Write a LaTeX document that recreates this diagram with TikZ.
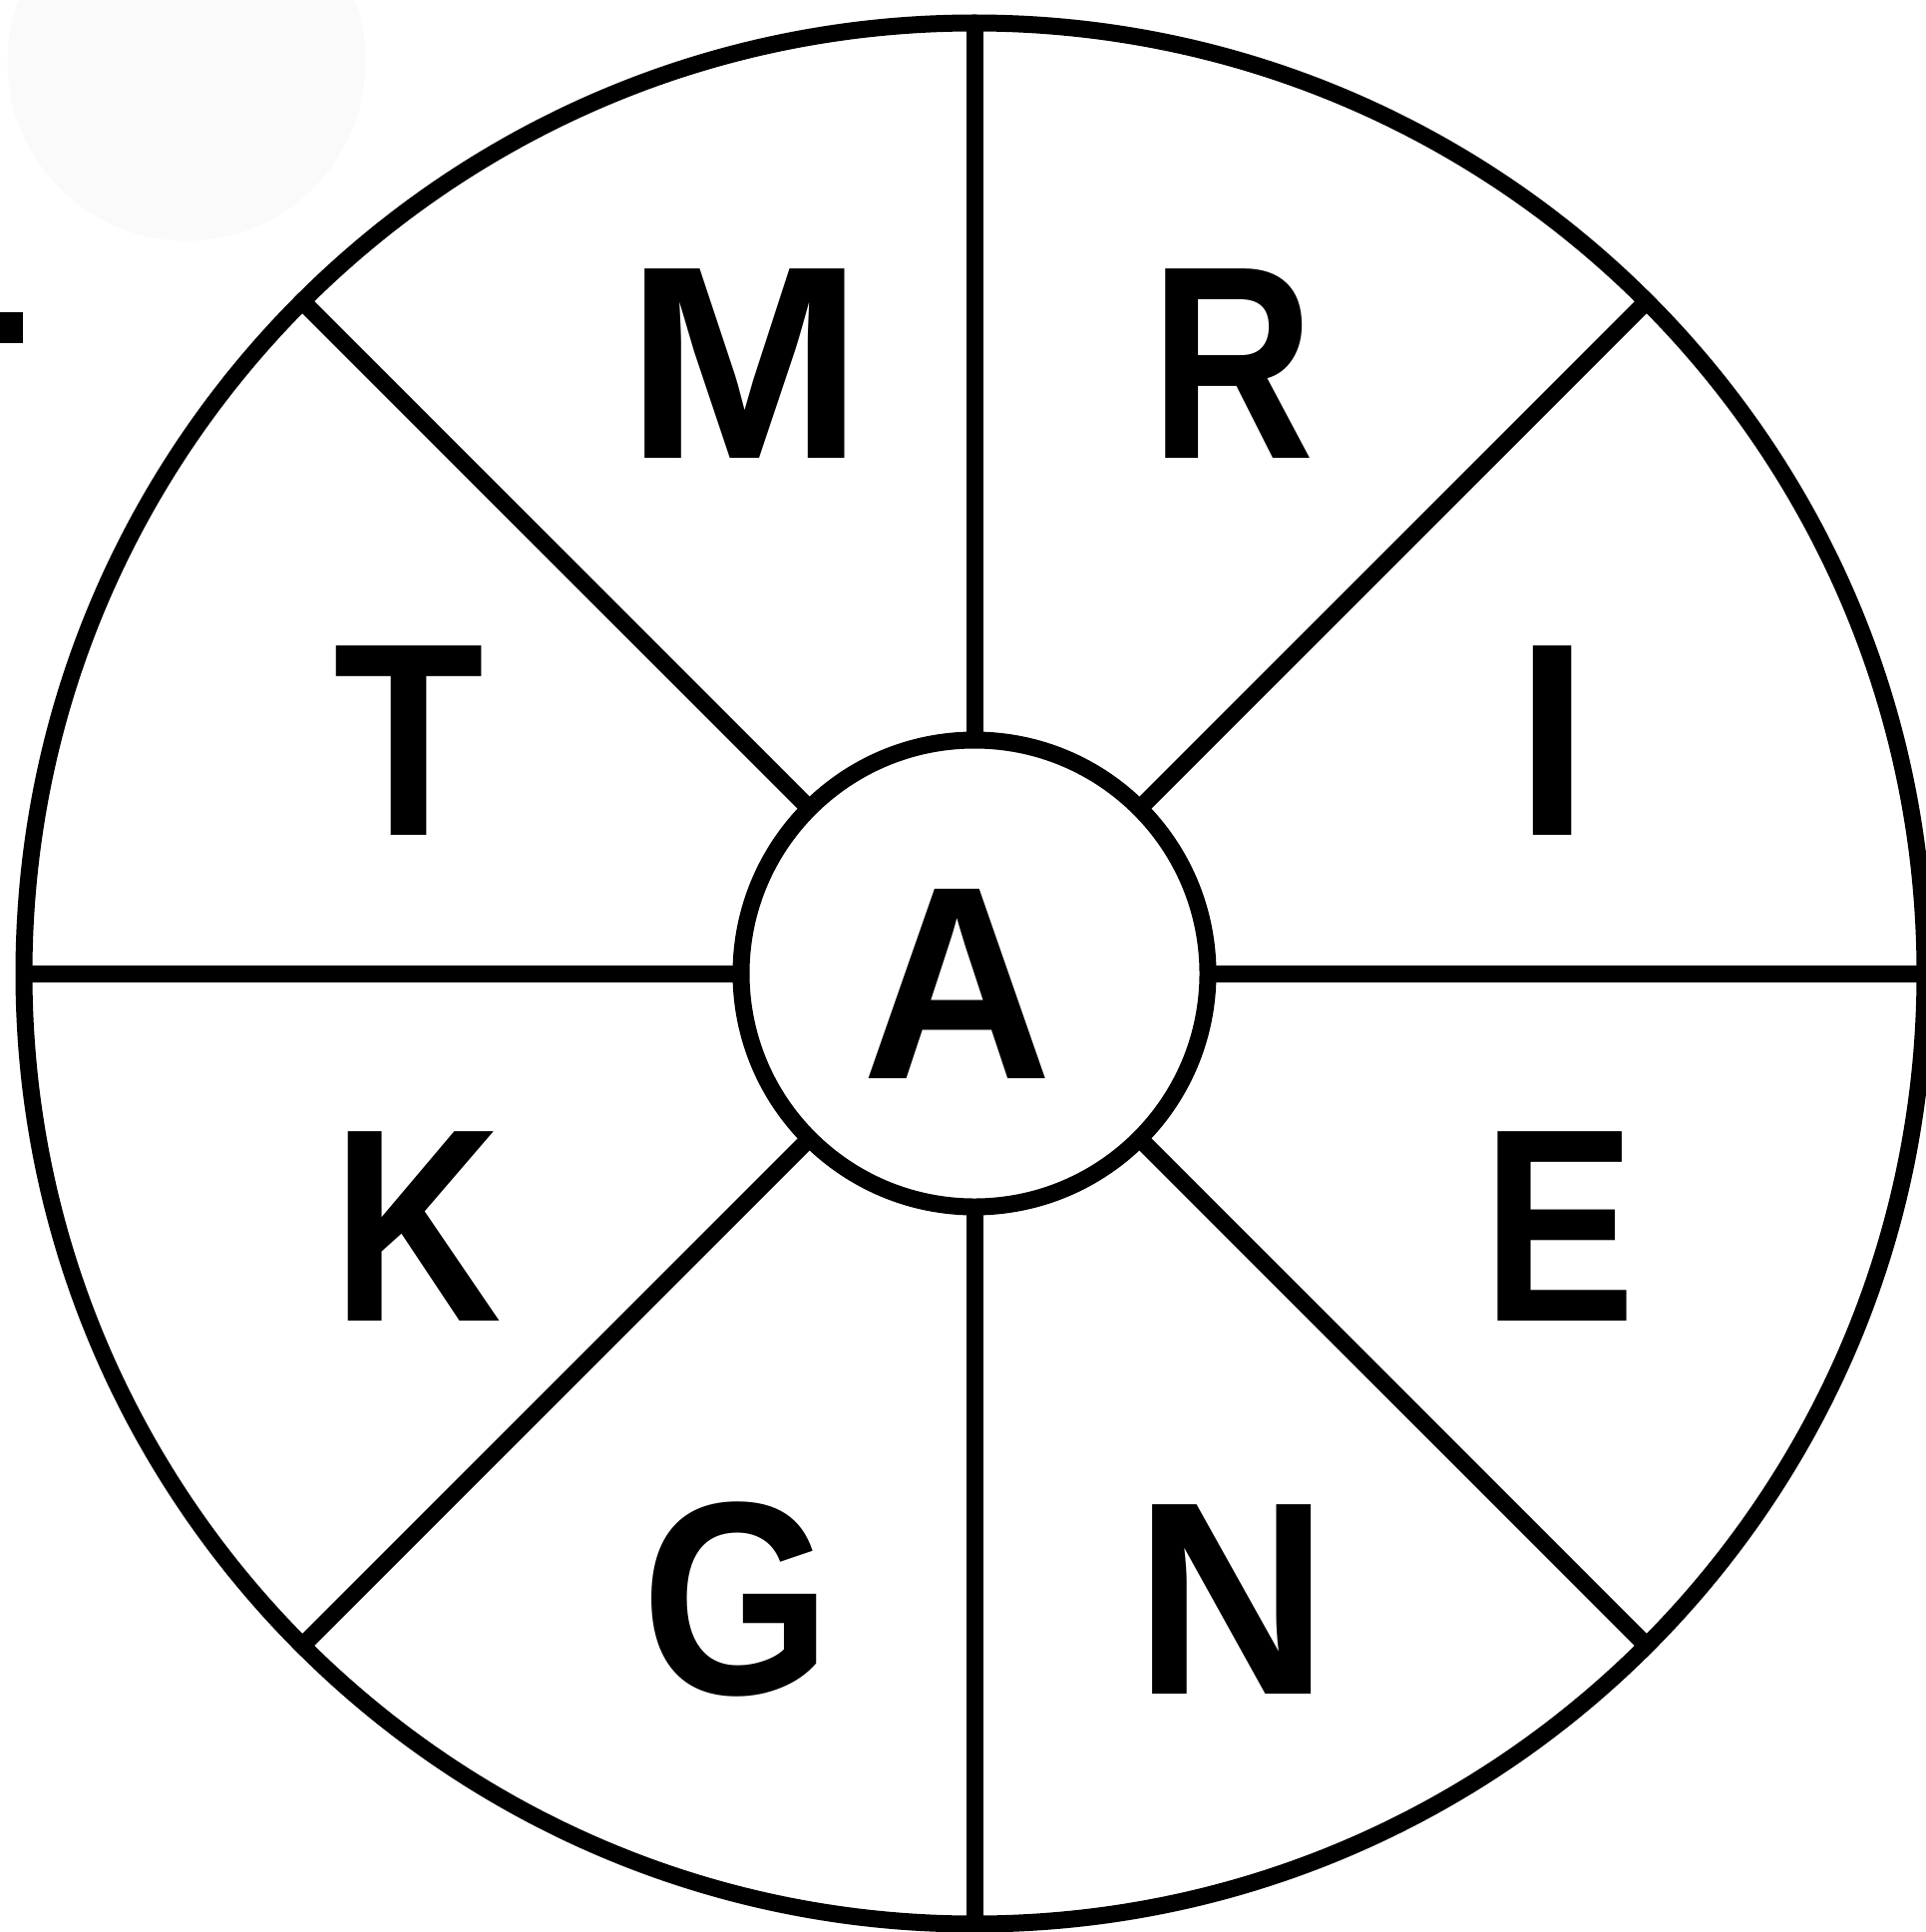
\documentclass[tikz,border=0pt]{standalone}
\usepackage{fontspec}
\usepackage{graphicx}
\usetikzlibrary{calc}
\newfontfamily\letterfont{Liberation Sans}
\definecolor{faintgray}{RGB}{250,250,250}
\tikzset{
  wheelline/.style={line width=8.5pt, draw=black},
  letter/.style={font=\letterfont\bfseries\fontsize{138pt}{160pt}\selectfont, inner sep=0pt, outer sep=0pt, anchor=base, text=black},
}
\begin{document}
\begin{tikzpicture}[x=0.5pt,y=-0.5pt]
\useasboundingbox (0,0) rectangle (1931,1937);
\fill[white] (0,0) rectangle (1931,1937);
% faint decorative circle and small mark
\fill[faintgray] (187,62) circle [radius=89.75pt];
\fill[black] (0,313) rectangle (23,344);
% wheel geometry
\coordinate (c) at (977,976);
\path (c) node[circle, minimum size=953pt, inner sep=0pt] (rim) {};
\path (c) node[circle, minimum size=234pt, inner sep=0pt] (hub) {};
% spokes, kept inside the rim
\begin{scope}
  \clip (c) circle [radius=476.5pt];
  \foreach \a in {0,45,...,315}{
    \draw[wheelline] (hub.center) -- ($(hub.center)!1.05!(rim.\a)$);
  }
\end{scope}
% hub and rim on top
\draw[wheelline, fill=white] (hub.center) circle [radius=117pt];
\draw[wheelline] (rim.center) circle [radius=476.5pt];
% letters
\node[letter] (lM) at (747,459) {\scalebox{1.038}[1]{M}};
\node[letter] (lR) at (1236,459) {\scalebox{0.826}[1]{R}};
\node[letter] (lT) at (410,837) {\scalebox{0.896}[1]{T}};
\node[letter] (lI) at (1557,837) {\scalebox{0.967}[1]{I}};
\node[letter] (lA) at (960,1081) {\scalebox{0.957}[1]{A}};
\node[letter] (lK) at (418,1324) {\scalebox{0.851}[1]{K}};
\node[letter] (lE) at (1563,1324) {\scalebox{0.834}[1]{E}};
\node[letter] (lG) at (738.5,1698) {\scalebox{0.887}[1]{G}};
\node[letter] (lN) at (1235,1698) {\scalebox{0.98}[1]{N}};
\end{tikzpicture}
\end{document}
